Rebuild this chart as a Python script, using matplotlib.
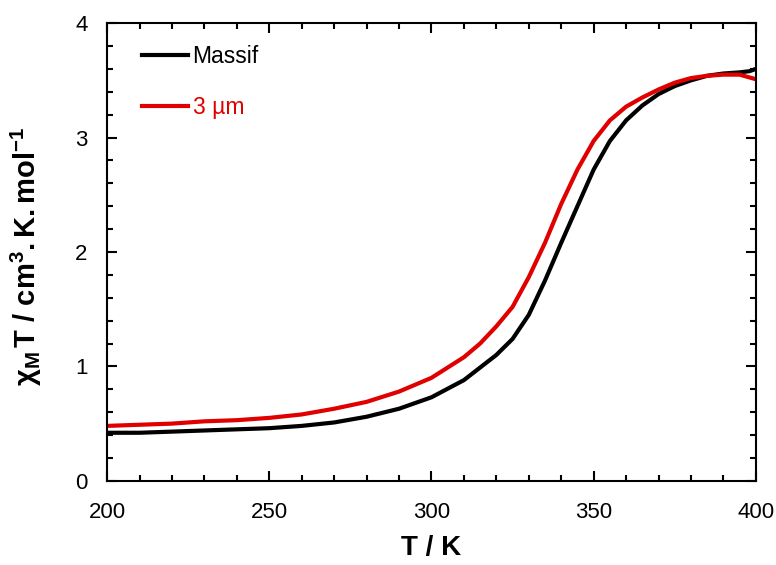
import matplotlib
matplotlib.use("Agg")
import matplotlib.pyplot as plt
from matplotlib.ticker import MultipleLocator

plt.rcParams['font.family'] = ['Liberation Sans', 'DejaVu Sans']
plt.rcParams['mathtext.fontset'] = 'custom'
plt.rcParams['mathtext.rm'] = 'Liberation Sans'
plt.rcParams['mathtext.bf'] = 'Liberation Sans:bold'
plt.rcParams['mathtext.it'] = 'Liberation Sans:italic'

# temperature (K) and chi_M*T (cm3.K/mol)
temp_massif = [200, 210, 220, 230, 240, 250, 260, 270, 280, 290, 300, 310, 320,
               325, 330, 335, 340, 345, 350, 355, 360, 365, 370, 375, 380, 385,
               390, 395, 398, 400]
chi_massif = [0.42, 0.42, 0.43, 0.44, 0.45, 0.46, 0.48, 0.51, 0.56, 0.63, 0.73,
              0.88, 1.10, 1.24, 1.45, 1.75, 2.08, 2.40, 2.72, 2.97, 3.15, 3.28,
              3.38, 3.45, 3.50, 3.54, 3.56, 3.57, 3.58, 3.60]

temp_3um = [200, 210, 220, 230, 240, 250, 260, 270, 280, 290, 300, 310, 315,
            320, 325, 330, 335, 340, 345, 350, 355, 360, 365, 370, 375, 380,
            385, 390, 395, 400]
chi_3um = [0.48, 0.49, 0.50, 0.52, 0.53, 0.55, 0.58, 0.63, 0.69, 0.78, 0.90,
           1.08, 1.20, 1.35, 1.52, 1.78, 2.08, 2.42, 2.72, 2.97, 3.15, 3.27,
           3.35, 3.42, 3.48, 3.52, 3.54, 3.55, 3.55, 3.51]

fig = plt.figure(figsize=(7.76, 5.65), dpi=100)
ax = fig.add_axes([0.138, 0.149, 0.836, 0.81])

ax.plot(temp_massif, chi_massif, color="black", lw=3, label="Massif")
ax.plot(temp_3um, chi_3um, color="#e00000", lw=3, label="3 µm")

ax.set_xlim(200, 400)
ax.set_ylim(0, 4)
ax.xaxis.set_major_locator(MultipleLocator(50))
ax.xaxis.set_minor_locator(MultipleLocator(10))
ax.yaxis.set_major_locator(MultipleLocator(1))
ax.yaxis.set_minor_locator(MultipleLocator(0.2))

for s in ax.spines.values():
    s.set_linewidth(1.5)
ax.tick_params(which="both", direction="in", top=True, right=True, width=1.5)
ax.tick_params(which="major", length=7, labelsize=16, pad=14)
ax.tick_params(which="minor", length=4)
ax.tick_params(axis="x", which="major", pad=15)

ax.set_xlabel("T / K", fontsize=20, fontweight="bold")
ax.set_ylabel(r"$\mathbf{\chi_M\,T\ /\ cm^3.K.mol^{-1}}$", fontsize=21)
ax.xaxis.set_label_coords(0.5, -0.118)
ax.yaxis.set_label_coords(-0.097, 0.49)

leg = ax.legend(loc="upper left", bbox_to_anchor=(0.054, 0.952), frameon=False,
                fontsize=16.5, handlelength=2.0, handletextpad=0.2,
                labelspacing=1.2, borderaxespad=0, borderpad=0)
for txt, line in zip(leg.get_texts(), leg.get_lines()):
    txt.set_color(line.get_color())

fig.savefig("out.png", dpi=100)
